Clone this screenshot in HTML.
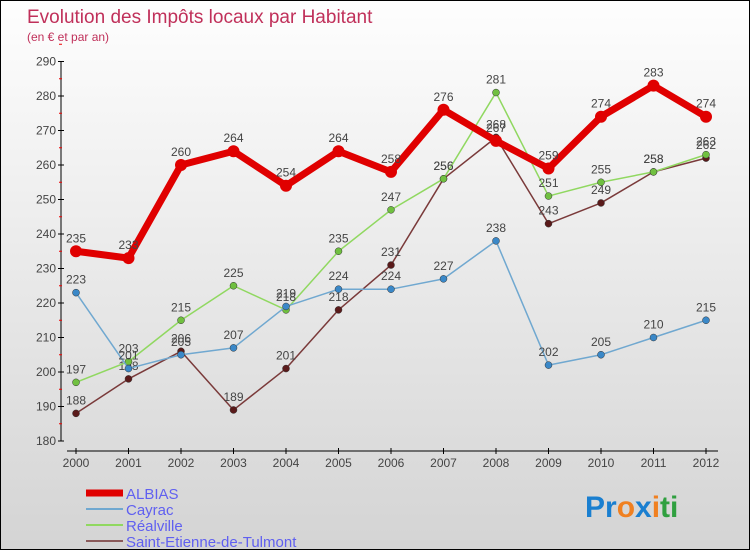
<!DOCTYPE html>
<html><head><meta charset="utf-8"><style>
body{margin:0}
#c{width:748px;height:548px;border:1px solid #000;background:linear-gradient(#fefefe,#d4d4d4);position:relative;overflow:hidden;font-family:"Liberation Sans",sans-serif}
</style></head><body>
<div id="c">
<svg id="s" width="748" height="548" xmlns="http://www.w3.org/2000/svg">
<text x="26" y="22" font-size="19" fill="#c0305a">Evolution des Impôts locaux par Habitant</text>
<text x="26" y="40" font-size="12" fill="#c0305a">(en € et par an)</text>
<g id="axes"></g><g id="series"></g>
<text x="584" y="516" font-size="30" font-weight="bold"><tspan fill="#1a7fd0">Pr</tspan><tspan fill="#f08020">o</tspan><tspan fill="#1a7fd0">x</tspan><tspan fill="#f08020">i</tspan><tspan fill="#30a040">ti</tspan></text>
</svg></div>
<script>
const years=[2000,2001,2002,2003,2004,2005,2006,2007,2008,2009,2010,2011,2012];
const yTicks=[180,190,200,210,220,230,240,250,260,270,280,290];
const albias=[235,233,260,264,254,264,258,276,267,259,274,283,274];
const cayrac=[223,201,205,207,219,224,224,227,238,202,205,210,215];
const realville=[197,203,215,225,218,235,247,256,281,251,255,258,263];
const stEtienne=[188,198,206,189,201,218,231,256,268,243,249,258,262];
const NS="http://www.w3.org/2000/svg";
const X=i=>75+i*52.5, Y=v=>440-(v-180)*3.45;
function mk(t,a,p){const e=document.createElementNS(NS,t);for(const k in a)e.setAttribute(k,a[k]);p.appendChild(e);return e;}
const ax=document.getElementById('axes');
let l=mk('line',{x1:60,y1:Y(180),x2:60,y2:Y(290),stroke:'#000'},ax);


yTicks.forEach(v=>{mk('line',{x1:57,x2:63,y1:Y(v),y2:Y(v),stroke:'#000'},ax);
 mk('line',{x1:58,x2:61,y1:Y(v+5),y2:Y(v+5),stroke:'#e00'},ax);
 const t=mk('text',{x:55,y:Y(v)+4,'text-anchor':'end','font-size':12,fill:'#444'},ax);t.textContent=v;
 
 });
l=mk('line',{x1:66,y1:450,x2:717,y2:450,stroke:'#000'},ax);


years.forEach((y,i)=>{mk('line',{x1:X(i),x2:X(i),y1:447,y2:453,stroke:'#000'},ax);
 const t=mk('text',{x:X(i),y:466,'text-anchor':'middle','font-size':12,fill:'#444'},ax);t.textContent=y;
 
 });
const sg=document.getElementById('series');
const defs=[[stEtienne,'#7a3a3a','#5a1a1a',1.5,3.5,'Saint-Etienne-de-Tulmont'],[realville,'#90d860','#70c040',1.5,3.5,'Réalville'],[cayrac,'#70a8d0','#3a88c8',1.5,3.5,'Cayrac'],[albias,'#e00000','#e00000',7,6,'ALBIAS']];
defs.forEach(([d,c,mc,w,r,n])=>{
 const g=mk('g',{},sg);
 
 
 mk('polyline',{points:d.map((v,i)=>X(i)+','+Y(v)).join(' '),fill:'none',stroke:c,'stroke-width':w,'stroke-linejoin':'round'},g);
 d.forEach((v,i)=>{const p=mk('circle',{cx:X(i),cy:Y(v),r:r,fill:mc,stroke:'#333','stroke-width':w>2?0:0.5},g);
  
  
  const t=mk('text',{x:X(i),y:Y(v)-9,'text-anchor':'middle','font-size':12,fill:'#444'},g);t.textContent=v;
  
  });
});
const leg=[['ALBIAS','#e00000',7],['Cayrac','#70a8d0',2],['Réalville','#90d860',2],['Saint-Etienne-de-Tulmont','#8a5a5a',2]];
leg.forEach(([n,c,w],i)=>{const g=mk('g',{},sg);
 
 
 const y=492+i*16;
 mk('line',{x1:85,x2:122,y1:y,y2:y,stroke:c,'stroke-width':w},g);
 const t=mk('text',{x:125,y:y+6,'font-size':15,fill:'#6060f0'},g);t.textContent=n;});
</script>
</body></html>
